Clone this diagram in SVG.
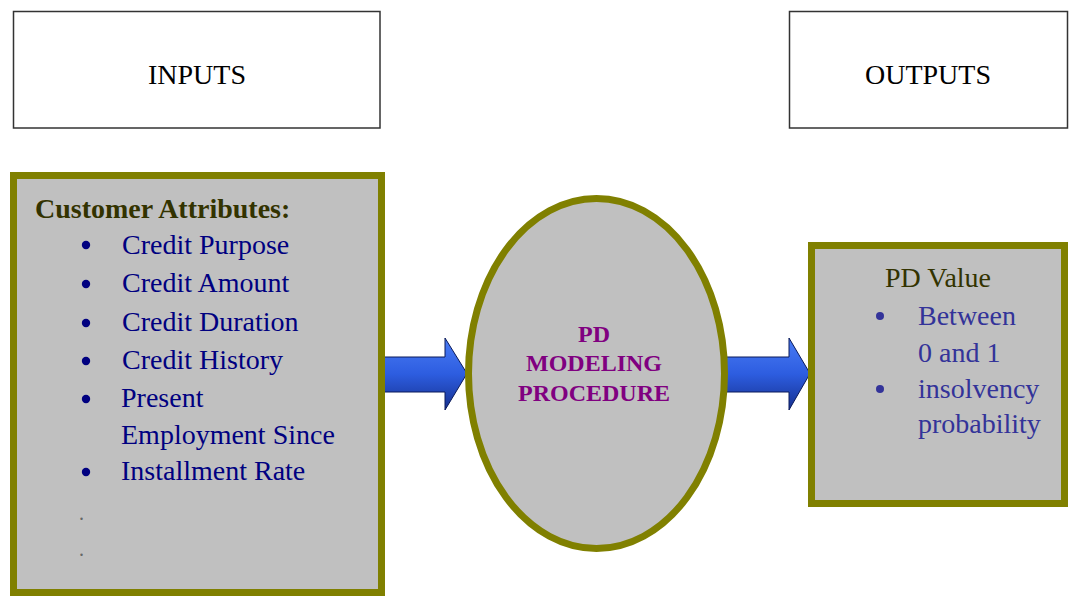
<svg xmlns="http://www.w3.org/2000/svg" width="1069" height="599" viewBox="0 0 1069 599">
  <style>
    .serif { font-family: "Liberation Serif", "Times New Roman", serif; }
    .label { font-size: 28px; fill: #000; }
    .header { fill: #fff; stroke: #333; stroke-width: 1.5; }
    .panel { fill: #c0c0c0; stroke: #808000; stroke-width: 7; }
    .heading { font-size: 28px; font-weight: bold; fill: #333300; }
    .item { font-size: 28px; fill: #000080; }
    .item2 { font-size: 28px; fill: #333399; }
    .bullet { fill: #000080; }
    .bullet2 { fill: #333399; }
    .proc { font-size: 24px; font-weight: bold; fill: #800080; text-anchor: middle; }
    .arrow { fill: url(#arrowFill); stroke: #0a1a5a; stroke-width: 1; }
  </style>
  <defs>
    <linearGradient id="arrowFill" x1="0" y1="0" x2="0" y2="1">
      <stop offset="0" stop-color="#4a7cf5"/>
      <stop offset="0.5" stop-color="#2d5de0"/>
      <stop offset="1" stop-color="#16308f"/>
    </linearGradient>
  </defs>

  <rect width="1069" height="599" fill="#fff"/>

  <!-- Header boxes -->
  <g id="inputs">
    <rect class="header" x="13.5" y="11.5" width="366.5" height="116.5"/>
    <text class="serif label" x="197" y="84" text-anchor="middle">INPUTS</text>
  </g>
  <g id="outputs">
    <rect class="header" x="789.5" y="11.5" width="278" height="116.5"/>
    <text class="serif label" x="928" y="84" text-anchor="middle">OUTPUTS</text>
  </g>

  <!-- Connectors -->
  <g id="connectors">
    <path class="arrow" d="M383,357 L445,357 L445,338 L467,373.5 L445,410 L445,392 L383,392 Z"/>
    <path class="arrow" d="M724,357 L789,357 L789,338 L810,373.5 L789,410 L789,392 L724,392 Z"/>
  </g>

  <!-- Customer attributes -->
  <g id="customer-attributes">
    <rect class="panel" x="13.5" y="175.5" width="368" height="417"/>
    <text class="serif heading" x="35" y="218">Customer Attributes:</text>
    <g class="serif item">
      <text x="122" y="254">Credit Purpose</text>
      <text x="122" y="292">Credit Amount</text>
      <text x="122" y="331">Credit Duration</text>
      <text x="122" y="369">Credit History</text>
      <text x="121" y="407">Present</text>
      <text x="121" y="444">Employment Since</text>
      <text x="121" y="480">Installment Rate</text>
    </g>
    <g class="bullet">
      <circle cx="86" cy="245" r="4.2"/>
      <circle cx="86" cy="284" r="4.2"/>
      <circle cx="86" cy="323" r="4.2"/>
      <circle cx="86" cy="361" r="4.2"/>
      <circle cx="86" cy="399" r="4.2"/>
      <circle cx="86" cy="472" r="4.2"/>
    </g>
    <g class="serif" font-size="20" fill="#666">
      <text x="79" y="520">.</text>
      <text x="79" y="556">.</text>
    </g>
  </g>

  <!-- Modeling procedure -->
  <g id="pd-modeling">
    <ellipse class="panel" cx="596.5" cy="373.5" rx="128" ry="175"/>
    <text class="serif proc" x="594" y="342">PD</text>
    <text class="serif proc" x="594" y="371">MODELING</text>
    <text class="serif proc" x="594" y="401">PROCEDURE</text>
  </g>

  <!-- PD value -->
  <g id="pd-value">
    <rect class="panel" x="811.5" y="245.5" width="253" height="258"/>
    <text class="serif label" x="885" y="287" style="fill:#333300">PD Value</text>
    <g class="serif item2">
      <text x="918" y="325">Between</text>
      <text x="918" y="362">0 and 1</text>
      <text x="918" y="398">insolvency</text>
      <text x="918" y="433">probability</text>
    </g>
    <g class="bullet2">
      <circle cx="880" cy="316" r="4"/>
      <circle cx="880" cy="389" r="4"/>
    </g>
  </g>
</svg>
